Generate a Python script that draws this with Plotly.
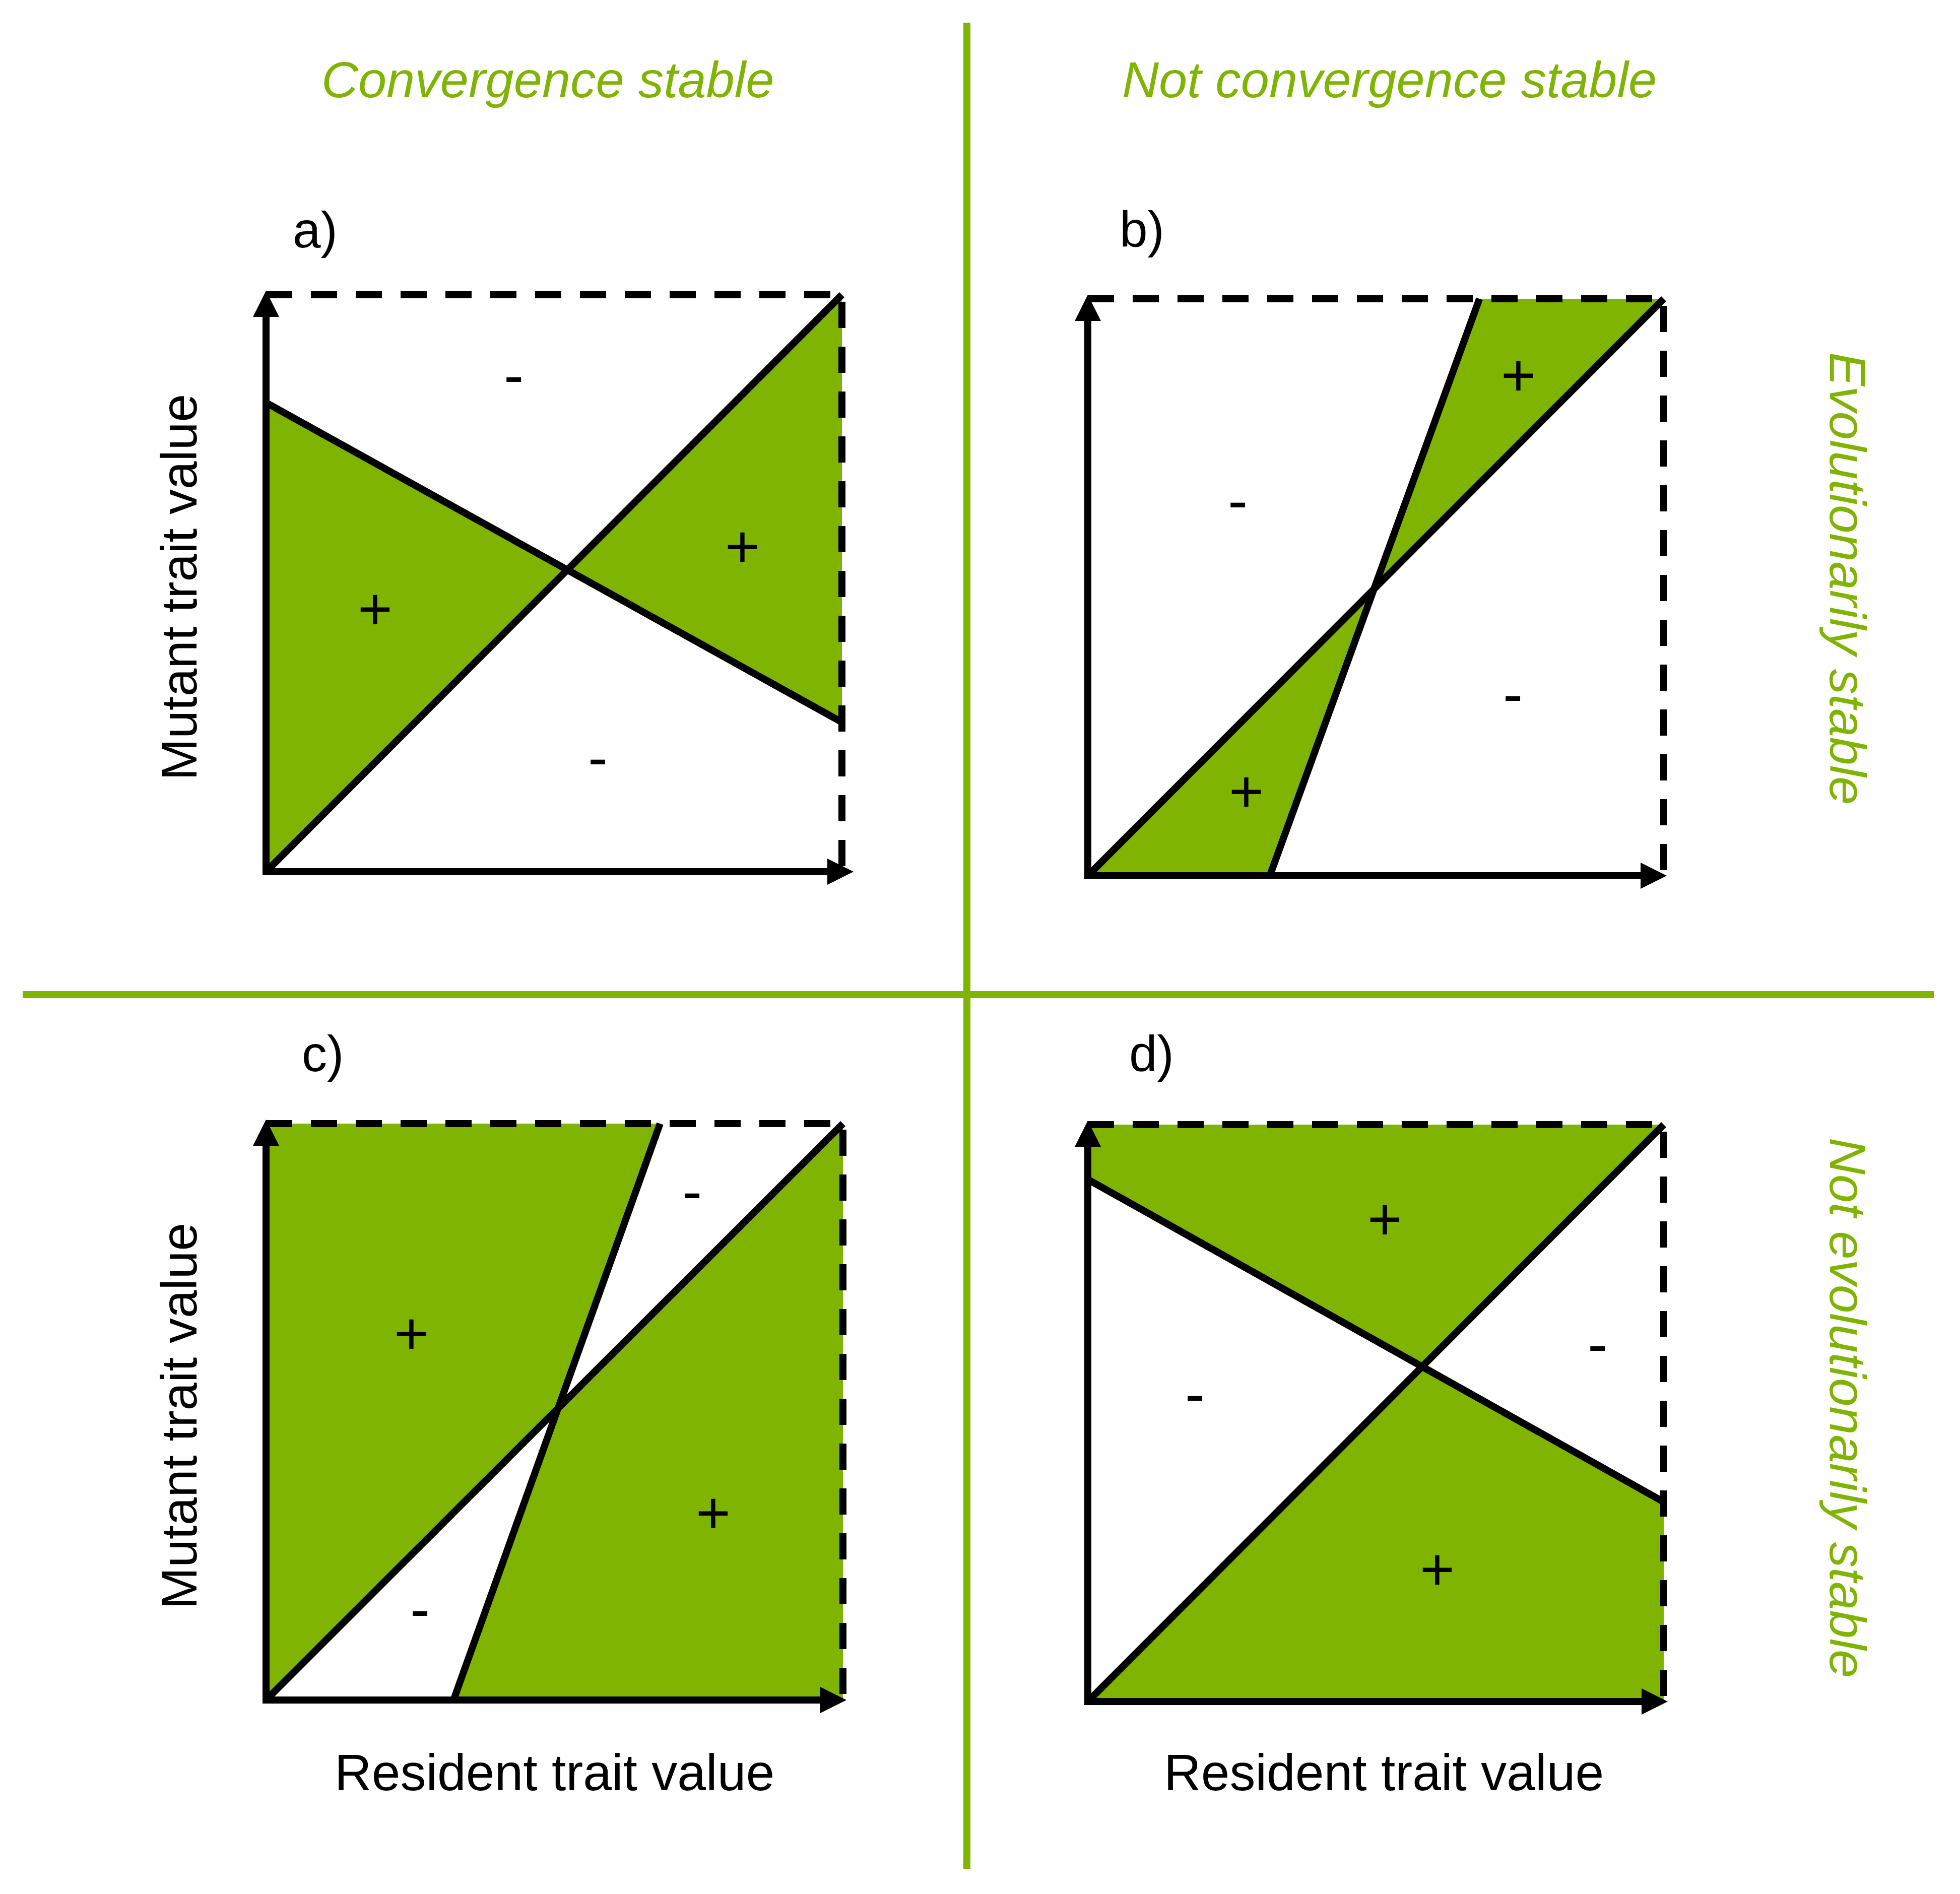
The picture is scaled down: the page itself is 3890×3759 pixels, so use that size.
import plotly.graph_objects as go

W, H = 3890, 3759
GREEN = "#7FB403"
BLACK = "#000000"
FONT = "Liberation Sans"

# ---------------- data (each panel drawn in a unit square) ----------------
panel_ids = ["a", "b", "c", "d"]
panel_letters = ["a)", "b)", "c)", "d)"]

# panel a
a_line_x = [0.0, 1.0]
a_line_y = [0.813, 0.259]
a_sign_x = [0.430, 0.827, 0.189, 0.576]
a_sign_y = [0.861, 0.564, 0.456, 0.198]
a_sign_t = ["-", "+", "+", "-"]

# panel b
b_line_x = [0.316, 0.680]
b_line_y = [0.0, 1.0]
b_sign_x = [0.748, 0.260, 0.738, 0.275]
b_sign_y = [0.868, 0.651, 0.315, 0.147]
b_sign_t = ["+", "-", "-", "+"]

# panel c
c_line_x = [0.325, 0.683]
c_line_y = [0.0, 1.0]
c_sign_x = [0.738, 0.252, 0.775, 0.267]
c_sign_y = [0.883, 0.636, 0.325, 0.158]
c_sign_t = ["-", "+", "+", "-"]

# panel d
d_line_x = [0.0, 1.0]
d_line_y = [0.905, 0.346]
d_sign_x = [0.516, 0.885, 0.186, 0.607]
d_sign_y = [0.837, 0.620, 0.534, 0.230]
d_sign_t = ["+", "-", "-", "+"]

diag_x = [0.0, 1.0]
diag_y = [0.0, 1.0]

col_titles = ["Convergence stable", "Not convergence stable"]
row_titles = ["Evolutionarily stable", "Not evolutionarily stable"]
x_title = "Resident trait value"
y_title = "Mutant trait value"

# ---------------- layout geometry (pixels) ----------------
# x0, x1, y_bottom, y_top of each unit square, x-arrow tip offset
geom = {
    "a": (528, 1671, 1730, 585, 23),
    "b": (2159, 3302, 1738, 593, 6),
    "c": (528, 1673, 3374, 2230, 7),
    "d": (2159, 3302, 3377, 2232, 8),
}
PAD = 0.06
LW = 14
ARROW = 52


def cross_with_diag(lx, ly):
    # intersection of the segment with y = x
    (x1, x2), (y1, y2) = lx, ly
    t = (y1 - x1) / ((x2 - x1) - (y2 - y1))
    v = x1 + t * (x2 - x1)
    return v


def fills_for(pid, lx, ly):
    v = cross_with_diag(lx, ly)
    if pid == "a":
        return [([0, 0, v], [0, ly[0], v]), ([v, 1, 1], [v, 1, ly[1]])]
    if pid == "b":
        return [([0, lx[0], v], [0, 0, v]), ([v, lx[1], 1], [v, 1, 1])]
    if pid == "c":
        return [([0, 0, lx[1], v], [0, 1, 1, v]), ([lx[0], 1, 1, v], [0, 0, 1, v])]
    return [([0, 0, 1, v], [ly[0], 1, 1, v]), ([0, 1, 1, v], [0, 0, ly[1], v])]


panel_data = {
    "a": (a_line_x, a_line_y, a_sign_x, a_sign_y, a_sign_t),
    "b": (b_line_x, b_line_y, b_sign_x, b_sign_y, b_sign_t),
    "c": (c_line_x, c_line_y, c_sign_x, c_sign_y, c_sign_t),
    "d": (d_line_x, d_line_y, d_sign_x, d_sign_y, d_sign_t),
}

fig = go.Figure()
layout_axes = {}
annotations = []

for i, pid in enumerate(panel_ids):
    n = "" if i == 0 else str(i + 1)
    xa, ya = "x" + n, "y" + n
    x0, x1, yb, yt, xoff = geom[pid]
    w, h = x1 - x0, yb - yt
    layout_axes["xaxis" + n] = dict(
        domain=[(x0 - PAD * w) / W, (x1 + PAD * w) / W],
        range=[-PAD, 1 + PAD], visible=False, fixedrange=True, anchor=ya)
    layout_axes["yaxis" + n] = dict(
        domain=[1 - (yb + PAD * h) / H, 1 - (yt - PAD * h) / H],
        range=[-PAD, 1 + PAD], visible=False, fixedrange=True, anchor=xa)

    lx, ly, sx, sy, st = panel_data[pid]
    common = dict(xaxis=xa, yaxis=ya, hoverinfo="skip", showlegend=False,
                  cliponaxis=False)
    for fx, fy in fills_for(pid, lx, ly):
        fig.add_trace(go.Scatter(x=fx + [fx[0]], y=fy + [fy[0]], mode="lines",
                                 fill="toself", fillcolor=GREEN,
                                 line=dict(width=0, color=GREEN), **common))
    # dashed frame (top and right)
    fig.add_trace(go.Scatter(x=[0, 1, 1], y=[1, 1, 0], mode="lines",
                             line=dict(color=BLACK, width=LW, dash="52px,37px"),
                             **common))
    # diagonal and boundary line
    fig.add_trace(go.Scatter(x=diag_x, y=diag_y, mode="lines",
                             line=dict(color=BLACK, width=LW), **common))
    fig.add_trace(go.Scatter(x=lx, y=ly, mode="lines",
                             line=dict(color=BLACK, width=LW), **common))
    # axes with arrows
    ytip = 1 + 8 / h
    xtip = 1 + xoff / w
    fig.add_trace(go.Scatter(x=[0, 0, xtip - 26 / w], y=[ytip - 26 / h, 0, 0],
                             mode="lines",
                             line=dict(color=BLACK, width=LW), **common))
    fig.add_trace(go.Scatter(x=[0, xtip], y=[ytip, 0], mode="markers",
                             marker=dict(symbol=["arrow-up", "arrow-right"],
                                         size=ARROW, color=BLACK,
                                         line=dict(width=0)), **common))
    # +/- signs
    for tx, ty, tt in zip(sx, sy, st):
        annotations.append(dict(x=tx, y=ty, xref=xa, yref=ya, text=tt,
                                showarrow=False, xanchor="center",
                                yanchor="middle",
                                font=dict(family=FONT, size=118, color=BLACK)))


def paper(px, py):
    return px / W, 1 - py / H


# panel letters
letter_pos = [(625, 456), (2266, 455), (640, 2091), (2285, 2091)]
for (px, py), t in zip(letter_pos, panel_letters):
    x, y = paper(px, py)
    annotations.append(dict(x=x, y=y, xref="paper", yref="paper", text=t,
                            showarrow=False, xanchor="center", yanchor="middle",
                            font=dict(family=FONT, size=100, color=BLACK)))

# column titles
for (px, py), t in zip([(1087, 158), (2757, 158)], col_titles):
    x, y = paper(px, py)
    annotations.append(dict(x=x, y=y, xref="paper", yref="paper", text=t,
                            showarrow=False, xanchor="center", yanchor="middle",
                            font=dict(family=FONT, size=101, color=GREEN,
                                      style="italic")))
# row titles
for (px, py), t in zip([(3667, 1148), (3667, 2794)], row_titles):
    x, y = paper(px, py)
    annotations.append(dict(x=x, y=y, xref="paper", yref="paper", text=t,
                            showarrow=False, xanchor="center", yanchor="middle",
                            textangle=90,
                            font=dict(family=FONT, size=101, color=GREEN,
                                      style="italic")))
# axis titles
for px, py in [(355, 1166), (355, 2811)]:
    x, y = paper(px, py)
    annotations.append(dict(x=x, y=y, xref="paper", yref="paper", text=y_title,
                            showarrow=False, xanchor="center", yanchor="middle",
                            textangle=-90,
                            font=dict(family=FONT, size=100, color=BLACK)))
for px, py in [(1100, 3518), (2746, 3518)]:
    x, y = paper(px, py)
    annotations.append(dict(x=x, y=y, xref="paper", yref="paper", text=x_title,
                            showarrow=False, xanchor="center", yanchor="middle",
                            font=dict(family=FONT, size=102, color=BLACK)))

# green quadrant dividers
shapes = [
    dict(type="line", xref="paper", yref="paper",
         x0=1919 / W, x1=1919 / W, y0=1 - 45 / H, y1=1 - 3709 / H,
         line=dict(color=GREEN, width=14)),
    dict(type="line", xref="paper", yref="paper",
         x0=45 / W, x1=3838 / W, y0=1 - 1974 / H, y1=1 - 1974 / H,
         line=dict(color=GREEN, width=14)),
]

fig.update_layout(width=W, height=H, margin=dict(l=0, r=0, t=0, b=0),
                  paper_bgcolor="white", plot_bgcolor="white",
                  annotations=annotations, shapes=shapes, showlegend=False,
                  **layout_axes)

fig.write_html("out.html", config={"displayModeBar": False},
               post_script="document.body.style.margin='0';"
                           "document.body.style.overflow='hidden';")
